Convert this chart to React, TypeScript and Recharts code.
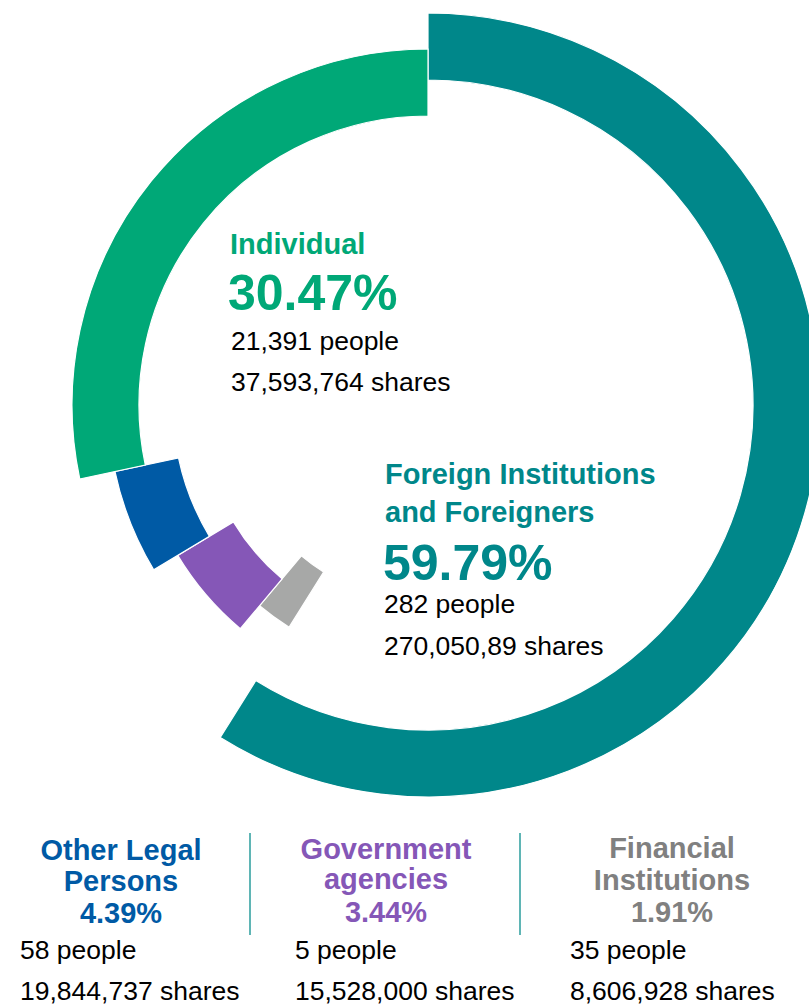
import React from "react";
import { PieChart, Pie, Cell } from "recharts";

// clockwise from the top, as drawn
const groups = ["Foreign Institutions and Foreigners", "Financial Institutions", "Government agencies", "Other Legal Persons", "Individual"];
const percents = [59.79, 1.91, 3.44, 4.39, 30.47];
const people = ["282", "35", "5", "58", "21,391"];
const shares = ["270,050,89", "8,606,928", "15,528,000", "19,844,737", "37,593,764"];
// sweep of each ring piece in degrees (not proportional to the share)
const arcDegrees = [212, 8, 19, 19, 102];

const colors = ["#00878A", "#A7A8A7", "#8557B7", "#005AA5", "#00A877"];
const textColors = ["#00878A", "#808080", "#8557B7", "#005AA5", "#00A877"];
const rings = [
  { inner: 325, outer: 392 },
  { inner: 197, outer: 262 },
  { inner: 227, outer: 292 },
  { inner: 255, outer: 320 },
  { inner: 289, outer: 356 },
];

const FONT = "'Liberation Sans', Arial, Helvetica, sans-serif";
const rows = groups.map((g, i) => ({ name: g, arc: arcDegrees[i] }));
const pctText = (v: number) => `${v.toFixed(2)}%`;

function BottomBlock(props: { idx: number; cx: number; left: number; lines: string[]; ys: number[] }) {
  const { idx, cx, left, lines, ys } = props;
  const c = textColors[idx];
  return (
    <g>
      {lines.map((l, k) => (
        <text key={l} x={cx} y={ys[k]} textAnchor="middle" fontSize={29} fontWeight={700} fill={c}>
          {l}
        </text>
      ))}
      <text x={cx} y={ys[2]} textAnchor="middle" fontSize={29} fontWeight={700} fill={c}>
        {pctText(percents[idx])}
      </text>
      <text x={left} y={959} fontSize={26.5} fill="#000">{`${people[idx]} people`}</text>
      <text x={left} y={1000} fontSize={26.5} fill="#000">{`${shares[idx]} shares`}</text>
    </g>
  );
}

export default function App() {
  return (
    <div style={{ position: "absolute", left: 0, top: 0, width: 809, height: 1006, overflow: "hidden", background: "#fff", fontFamily: FONT }}>
      <PieChart width={809} height={1006} margin={{ top: 0, right: 0, bottom: 0, left: 0 }}>
        {groups.map((g, i) => (
          <Pie
            key={g}
            data={rows}
            dataKey="arc"
            nameKey="name"
            cx={428}
            cy={405}
            innerRadius={rings[i].inner}
            outerRadius={rings[i].outer}
            startAngle={90}
            endAngle={-270}
            isAnimationActive={false}
          >
            {rows.map((r, j) => (
              <Cell
                key={r.name}
                fill={j === i ? colors[i] : "transparent"}
                stroke={j === i ? "#fff" : "none"}
                strokeWidth={j === i ? 1.2 : 0}
              />
            ))}
          </Pie>
        ))}
      </PieChart>

      <svg width={809} height={1006} style={{ position: "absolute", left: 0, top: 0, pointerEvents: "none", fontFamily: FONT }}>
        {/* Individual */}
        <text x={230} y={254} fontSize={29} fontWeight={700} fill={textColors[4]}>Individual</text>
        <text x={228} y={310} fontSize={50} fontWeight={700} fill={textColors[4]}>{pctText(percents[4])}</text>
        <text x={231} y={350} fontSize={26.5} fill="#000">{`${people[4]} people`}</text>
        <text x={231} y={391} fontSize={26.5} fill="#000">{`${shares[4]} shares`}</text>

        {/* Foreign */}
        <text x={385} y={484} fontSize={29} fontWeight={700} fill={textColors[0]}>Foreign Institutions</text>
        <text x={385} y={522} fontSize={29} fontWeight={700} fill={textColors[0]}>and Foreigners</text>
        <text x={383} y={580} fontSize={50} fontWeight={700} fill={textColors[0]}>{pctText(percents[0])}</text>
        <text x={384} y={613} fontSize={26.5} fill="#000">{`${people[0]} people`}</text>
        <text x={384} y={655} fontSize={26.5} fill="#000">{`${shares[0]} shares`}</text>

        <line x1={250} y1={833} x2={250} y2={935} stroke="#2A9C9C" strokeWidth={1.5} />
        <line x1={520} y1={833} x2={520} y2={935} stroke="#2A9C9C" strokeWidth={1.5} />

        <BottomBlock idx={3} cx={121} left={20} lines={["Other Legal", "Persons"]} ys={[860, 891, 923]} />
        <BottomBlock idx={2} cx={386} left={295} lines={["Government", "agencies"]} ys={[859, 889, 922]} />
        <BottomBlock idx={1} cx={672} left={570} lines={["Financial", "Institutions"]} ys={[858, 890, 922]} />
      </svg>
    </div>
  );
}
